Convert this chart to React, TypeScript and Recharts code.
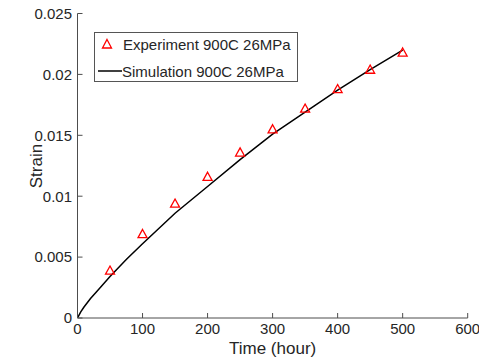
import React from "react";
import { ComposedChart, Line, Scatter, XAxis, YAxis, Legend } from "recharts";

// experiment (measured creep strain)
const expHours = [50, 100, 150, 200, 250, 300, 350, 400, 450, 500];
const expStrain = [0.0039, 0.0069, 0.0094, 0.0116, 0.0136, 0.0155, 0.0172, 0.0188, 0.0204, 0.0218];

// simulation curve
const simHours = [0, 5, 10, 20, 30, 50, 75, 100, 150, 200, 250, 300, 350, 400, 450, 500];
const simStrain = [0, 0.0005, 0.0009, 0.0016, 0.0022, 0.0034, 0.0048, 0.0061, 0.0086, 0.0108, 0.013, 0.0151, 0.0169, 0.0187, 0.0204, 0.022];

const xTicks = [0, 100, 200, 300, 400, 500, 600];
const yTicks = [0, 0.005, 0.01, 0.015, 0.02, 0.025];

const expData = expHours.map((t, i) => ({ t, strain: expStrain[i] }));
const simData = simHours.map((t, i) => ({ t, strain: simStrain[i] }));

const FONT = "'Liberation Sans', Arial, Helvetica, sans-serif";
const AXIS = "#4d4d4d";
const TEXT = "#262626";
const RED = "#ff0000";

const Triangle = (props: any) => {
  const { cx, cy } = props;
  if (cx == null || cy == null) return null;
  const h = 4.5;
  return (
    <path
      d={`M${cx},${cy - h} L${cx + h},${cy + h - 0.8} L${cx - h},${cy + h - 0.8} Z`}
      fill="none"
      stroke={RED}
      strokeWidth={1.3}
    />
  );
};

const renderLegend = () => (
  <svg width={204} height={50} style={{ display: "block", fontFamily: FONT }}>
    <rect x={0.5} y={0.5} width={203} height={49} fill="#fff" stroke="#555" strokeWidth={1} />
    <path d="M13,7.5 L17.5,16 L8.5,16 Z" fill="none" stroke={RED} strokeWidth={1.3} />
    <text x={29} y={12.5} fontSize={15} fill={TEXT} dominantBaseline="central">
      Experiment 900C 26MPa
    </text>
    <line x1={4} y1={39} x2={28} y2={39} stroke="#000" strokeWidth={1.5} />
    <text x={28} y={39} fontSize={15} fill={TEXT} dominantBaseline="central">
      Simulation 900C 26MPa
    </text>
  </svg>
);

export default function App() {
  const tickStyle = { fontSize: 15, fill: TEXT, fontFamily: FONT };
  return (
    <div style={{ position: "absolute", left: 0, top: 0, width: 479, height: 359, background: "#fff" }}>
      <ComposedChart width={479} height={359} margin={{ top: 13.5, right: 11.3, left: 0, bottom: 0 }}>
        <XAxis
          dataKey="t"
          type="number"
          domain={[0, 600]}
          ticks={xTicks}
          allowDataOverflow
          height={41}
          stroke={AXIS}
          tickSize={-5}
          tickMargin={10}
          tick={tickStyle}
          label={{
            content: () => (
              <text x={272.6} y={354} textAnchor="middle" fontSize={17} fill={TEXT} fontFamily={FONT}>
                Time (hour)
              </text>
            ),
          }}
        />
        <XAxis
          xAxisId="top"
          orientation="top"
          type="number"
          domain={[0, 600]}
          ticks={xTicks}
          height={0}
          stroke={AXIS}
          tickSize={-5}
          tickFormatter={() => ""}
        />
        <YAxis
          type="number"
          domain={[0, 0.025]}
          ticks={yTicks}
          allowDataOverflow
          width={77.5}
          stroke={AXIS}
          tickSize={-5}
          tickMargin={10.5}
          tick={tickStyle}
          tickFormatter={(v: number) => String(v)}
          label={{
            content: () => (
              <text
                x={42}
                y={166}
                textAnchor="middle"
                fontSize={17}
                fill={TEXT}
                fontFamily={FONT}
                transform="rotate(-90 42 166)"
              >
                Strain
              </text>
            ),
          }}
        />
        <YAxis
          yAxisId="right"
          orientation="right"
          type="number"
          domain={[0, 0.025]}
          ticks={yTicks}
          width={0}
          stroke={AXIS}
          tickSize={-5}
          tickFormatter={() => ""}
        />
        <Legend
          content={renderLegend}
          layout="vertical"
          align="center"
          verticalAlign="middle"
          wrapperStyle={{ left: 94, top: 32, width: 204, height: 50 }}
        />
        <Line
          data={simData}
          dataKey="strain"
          type="linear"
          stroke="#000"
          strokeWidth={1.5}
          dot={false}
          activeDot={false}
          isAnimationActive={false}
          legendType="none"
        />
        <Scatter
          data={expData}
          dataKey="strain"
          shape={<Triangle />}
          isAnimationActive={false}
          legendType="none"
        />
      </ComposedChart>
    </div>
  );
}
